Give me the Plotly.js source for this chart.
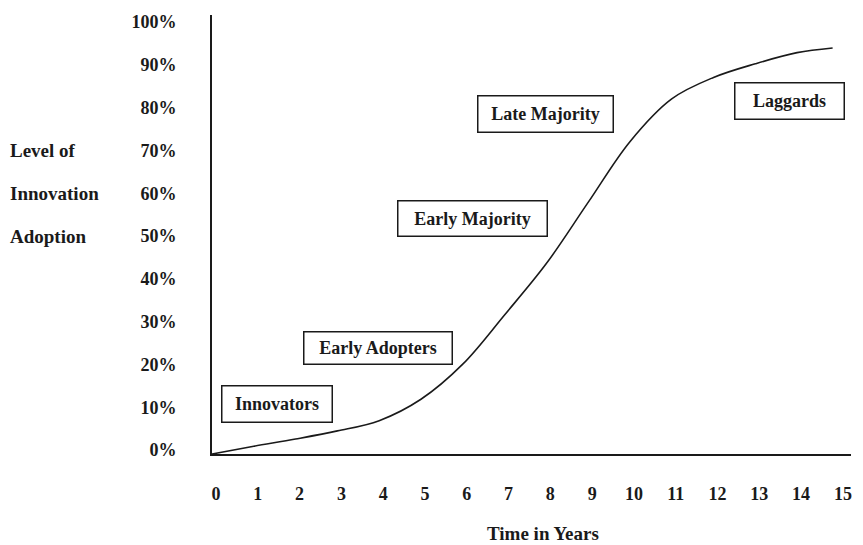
<!DOCTYPE html>
<html>
<head>
<meta charset="utf-8">
<script src="https://cdn.plot.ly/plotly-3.0.1.min.js"></script>
<style>html,body{margin:0;padding:0;background:#fff;}#chart{width:863px;height:545px;}</style>
</head>
<body>
<div id="chart"></div>
<script>
// Data
var years    = [0, 1, 2, 3, 4, 5, 6, 7, 8, 9, 10, 11, 12, 13, 14, 14.85];
var adoption = [0, 1.8, 3.5, 5.4, 7.8, 12.8, 21, 32.5, 44.5, 58.8, 73, 83, 88, 91.2, 93.8, 94.9];

var xTickVals = [0,1,2,3,4,5,6,7,8,9,10,11,12,13,14,15];
var yTickVals = [0,10,20,30,40,50,60,70,80,90,100];
var yTickText = ["0%","10%","20%","30%","40%","50%","60%","70%","80%","90%","100%"];

var stageNames = ["Innovators","Early Adopters","Early Majority","Late Majority","Laggards"];
var stageX     = [1.56, 3.97, 6.24, 7.97, 13.83];
var stageY     = [11.7, 24.8, 55.1, 79.4, 82.5];
var stageW     = [109, 147, 148, 134, 108];
var stageH     = [35, 31, 34, 35, 35];

var yTitleLines = ["Level of","Innovation","Adoption"];
var yTitleAt    = [70, 60, 50];
var xTitle = "Time in Years";

var FONT = "Liberation Serif, Times New Roman, serif";
var INK = "#1a1a1a";

var annotations = [];
for (var i = 0; i < stageNames.length; i++) {
  annotations.push({
    x: stageX[i], y: stageY[i], xref: "x", yref: "y",
    text: "<b>" + stageNames[i] + "</b>", showarrow: false,
    width: stageW[i], height: stageH[i], borderpad: 0,
    bordercolor: INK, borderwidth: 1.5, bgcolor: "rgba(255,255,255,0)",
    font: {family: FONT, size: 18, color: INK}
  });
}
for (var j = 0; j < yTitleLines.length; j++) {
  annotations.push({
    x: -0.319, y: yTitleAt[j], xref: "paper", yref: "y",
    xanchor: "left", yanchor: "middle", yshift: 4,
    text: "<b>" + yTitleLines[j] + "</b>", showarrow: false,
    font: {family: FONT, size: 19, color: INK}
  });
}
annotations.push({
  x: 0.518, y: -0.18, xref: "paper", yref: "paper",
  xanchor: "center", yanchor: "middle",
  text: "<b>" + xTitle + "</b>", showarrow: false,
  font: {family: FONT, size: 19, color: INK}
});

var trace = {
  x: years, y: adoption, type: "scatter", mode: "lines",
  line: {color: INK, width: 1.6, shape: "spline", smoothing: 1},
  hoverinfo: "skip"
};

var layout = {
  width: 863, height: 545,
  margin: {l: 212, r: 12, t: 15, b: 91},
  paper_bgcolor: "#ffffff", plot_bgcolor: "#ffffff",
  showlegend: false,
  xaxis: {
    range: [0, 15.29], tickvals: xTickVals, ticktext: xTickVals.map(function(v){return "<b>" + v + "</b>";}),
    showgrid: false, zeroline: false, showline: true, linecolor: INK, linewidth: 2,
    ticks: "", ticklabelstandoff: 22, ticklabelshift: 4,
    tickfont: {family: FONT, size: 18, color: INK}
  },
  yaxis: {
    range: [0, 102.6], tickvals: yTickVals, ticktext: yTickText.map(function(t){return "<b>" + t + "</b>";}),
    showgrid: false, zeroline: false, showline: true, linecolor: INK, linewidth: 2,
    ticks: "", ticklabelstandoff: 30, ticklabelshift: -4,
    tickfont: {family: FONT, size: 18, color: INK}
  },
  annotations: annotations
};

Plotly.newPlot("chart", [trace], layout, {displayModeBar: false, staticPlot: true});
</script>
</body>
</html>
